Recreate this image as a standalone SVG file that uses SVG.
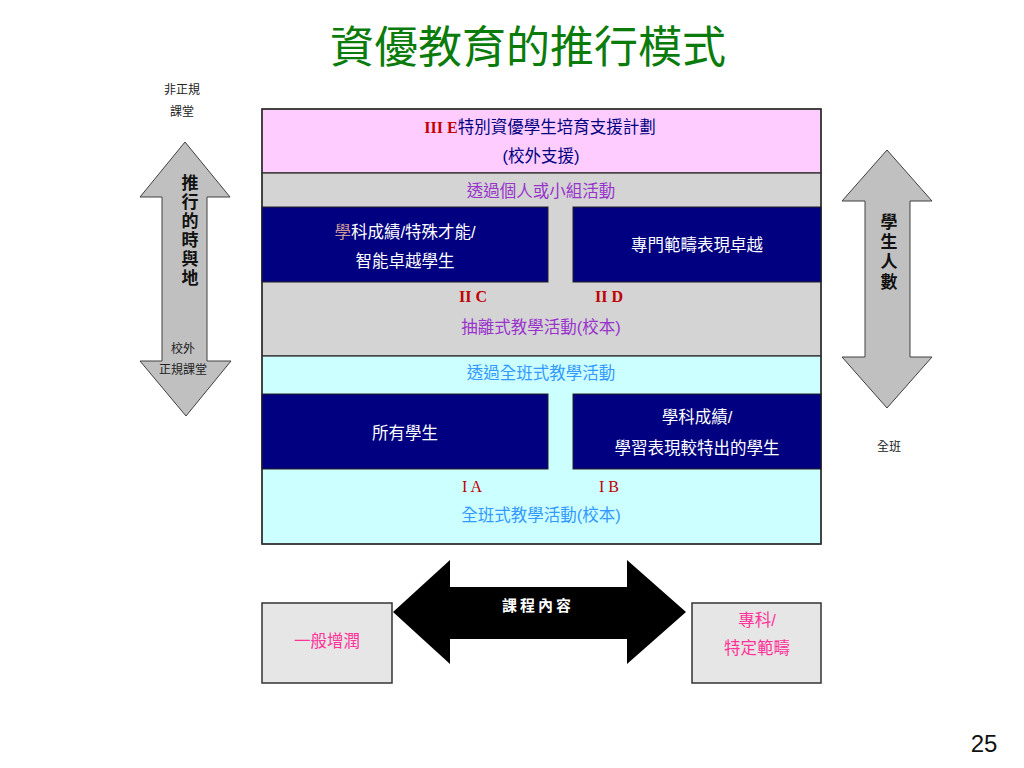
<svg xmlns="http://www.w3.org/2000/svg" width="1024" height="768" viewBox="0 0 1024 768">
<defs>
<style>
text{font-family:"Liberation Sans","Noto Sans CJK TC",sans-serif;}
.t{font-size:16.5px;text-anchor:middle;}
.w{fill:#FFFFFF;}
.nv{fill:#000080;}
.pu{fill:#9933CC;}
.lb{fill:#3399FF;}
.rd{fill:#C00000;font-family:"Liberation Serif","Noto Sans CJK TC",serif;font-size:16px;}
.bd{font-weight:bold;}
.sm{font-size:12px;fill:#222222;text-anchor:middle;}
.vt{font-size:17px;font-weight:bold;fill:#111111;text-anchor:middle;}
.pk{fill:#FF3399;}
.band{stroke:#333333;stroke-width:1.3;}
.blk{fill:#000080;stroke:#222222;stroke-width:1;}
.garrow{fill:#C0C0C0;stroke:#404040;stroke-width:1;}
.box{fill:#E6E6E6;stroke:#333333;stroke-width:1.5;}
</style>
</defs>
<rect width="1024" height="768" fill="#FFFFFF"/>

<g id="title">
<text x="528" y="63" font-size="44" fill="#0B7B0B" text-anchor="middle" style="font-family:'Noto Sans CJK TC',sans-serif">資優教育的推行模式</text>
</g>

<g id="frame">
<rect id="band-pink" class="band" x="262" y="109" width="559" height="64" fill="#FFCCFF"/>
<rect id="band-gray" class="band" x="262" y="173" width="559" height="183" fill="#D4D4D4"/>
<rect id="band-cyan" class="band" x="262" y="356" width="559" height="188" fill="#CCFFFF"/>
<rect x="262" y="109" width="559" height="435" fill="none" stroke="#333333" stroke-width="1.5"/>
</g>

<g id="node-IIIE">
<text class="t nv" x="540" y="133"><tspan class="rd bd">III E</tspan>特別資優學生培育支援計劃</text>
<text class="t nv" x="541" y="162">(校外支援)</text>
</g>

<g id="node-group-label">
<text class="t pu" x="541" y="197">透過個人或小組活動</text>
</g>

<g id="node-IIC-box">
<rect class="blk" x="262" y="207" width="286" height="75"/>
<text class="t w" x="405" y="238"><tspan fill="#CC9999">學</tspan>科成績/特殊才能/</text>
<text class="t w" x="405" y="267">智能卓越學生</text>
</g>

<g id="node-IID-box">
<rect class="blk" x="573" y="207" width="248" height="75"/>
<text class="t w" x="697" y="251">專門範疇表現卓越</text>
</g>

<g id="node-II-labels">
<text class="rd bd" x="459" y="302">II C</text>
<text class="rd bd" x="595" y="302">II D</text>
<text class="t pu" x="541" y="333">抽離式教學活動(校本)</text>
</g>

<g id="node-class-label">
<text class="t lb" x="541" y="379">透過全班式教學活動</text>
</g>

<g id="node-IA-box">
<rect class="blk" x="262" y="394" width="286" height="75"/>
<text class="t w" x="405" y="439">所有學生</text>
</g>

<g id="node-IB-box">
<rect class="blk" x="573" y="394" width="248" height="75"/>
<text class="t w" x="697" y="423">學科成績/</text>
<text class="t w" x="697" y="454">學習表現較特出的學生</text>
</g>

<g id="node-I-labels">
<text class="rd" x="462" y="492">I A</text>
<text class="rd" x="599" y="492">I B</text>
<text class="t lb" x="541" y="521">全班式教學活動(校本)</text>
</g>

<g id="node-left-arrow">
<polygon class="garrow" points="185,142 230,197 207,197 207,361 231,361 186,416 140,361 162,361 162,197 140,197"/>
<text class="vt" x="190" y="189">推</text>
<text class="vt" x="190" y="208">行</text>
<text class="vt" x="190" y="227">的</text>
<text class="vt" x="190" y="246">時</text>
<text class="vt" x="190" y="265">與</text>
<text class="vt" x="190" y="284">地</text>
<text class="sm" x="183" y="353">校外</text>
<text class="sm" x="183" y="374">正規課堂</text>
<text class="sm" x="182" y="94">非正規</text>
<text class="sm" x="182" y="116">課堂</text>
</g>

<g id="node-right-arrow">
<polygon class="garrow" points="887,150 932,201 910,201 910,357 932,357 887,408 842,357 865,357 865,201 842,201"/>
<text class="vt" x="889" y="228">學</text>
<text class="vt" x="889" y="248">生</text>
<text class="vt" x="889" y="268">人</text>
<text class="vt" x="889" y="288">數</text>
<text class="sm" x="889" y="451">全班</text>
</g>

<g id="node-general">
<rect class="box" x="262" y="603" width="130" height="80"/>
<text class="t pk" x="327" y="647">一般增潤</text>
</g>

<g id="node-specific">
<rect class="box" x="692" y="603" width="129" height="80"/>
<text class="t pk" x="757" y="626">專科/</text>
<text class="t pk" x="757" y="654">特定範疇</text>
</g>

<g id="connectors">
<polygon fill="#000000" points="393,612 450,560 450,587 627,587 627,560 686,612 627,664 627,639 450,639 450,664"/>
<text x="538" y="611" font-size="15" font-weight="bold" fill="#FFFFFF" text-anchor="middle" letter-spacing="3">課程內容</text>
</g>

<g id="page-number">
<text x="984" y="752" font-size="24" fill="#111111" text-anchor="middle">25</text>
</g>
</svg>
